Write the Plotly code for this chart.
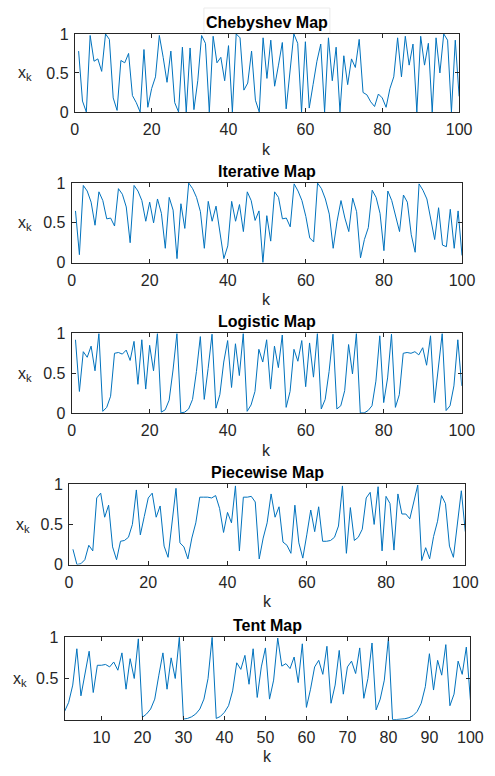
import plotly.graph_objects as go

W, H = 495, 776

k = list(range(1, 101))

titles = ["Chebyshev Map", "Iterative Map", "Logistic Map", "Piecewise Map", "Tent Map"]

chebyshev = [0.78, 0.14, 0.0, 0.98, 0.65, 0.68, 0.52, 1.0, 0.93, 0.18,
             0.02, 0.66, 0.63, 0.75, 0.21, 0.12, 0.0, 0.8, 0.06, 0.3,
             0.45, 0.98, 0.7, 0.38, 0.78, 0.12, 0.0, 0.83, 0.0, 0.82,
             0.03, 0.4, 0.98, 0.88, 0.0, 0.97, 0.63, 0.7, 0.4, 0.85,
             0.0, 1.0, 0.95, 0.28, 0.37, 0.78, 0.15, 0.0, 0.95, 0.43,
             0.92, 0.33, 0.6, 0.89, 0.04, 0.55, 1.0, 0.88, 0.0, 0.9,
             0.05, 0.35, 0.65, 0.87, 0.0, 0.95, 0.4, 0.83, 0.0, 0.72,
             0.35, 0.68, 0.57, 0.93, 0.25, 0.22, 0.13, 0.07, 0.23, 0.18,
             0.06, 0.3, 0.45, 0.95, 0.45, 0.97, 0.6, 0.87, 0.0, 0.97,
             0.6, 0.88, 0.0, 0.95, 0.5, 1.0, 0.92, 0.0, 0.92, 0.2]

iterative = [0.65, 0.1, 0.97, 0.9, 0.76, 0.47, 0.89, 0.78, 0.55, 0.56,
             0.46, 0.93, 0.86, 0.7, 0.25, 0.97, 0.9, 0.78, 0.52, 0.76,
             0.5, 0.8, 0.62, 0.18, 0.82, 0.66, 0.05, 0.74, 0.43, 1.0,
             0.93, 0.82, 0.64, 0.18, 0.77, 0.52, 0.71, 0.37, 0.05, 0.21,
             0.77, 0.52, 0.73, 0.39, 0.89, 0.78, 0.53, 0.65, 0.0, 0.59,
             0.27, 0.89, 0.82, 0.55, 0.56, 0.45, 0.99, 0.9, 0.78, 0.58,
             0.31, 0.26, 1.0, 0.93, 0.8, 0.61, 0.18, 0.52, 0.78, 0.56,
             0.39, 0.81, 0.64, 0.06, 0.29, 0.44, 0.91, 0.82, 0.62, 0.15,
             0.9, 0.78, 0.58, 0.39, 0.85, 0.76, 0.35, 0.13, 0.99, 0.91,
             0.8, 0.56, 0.29, 0.69, 0.22, 0.2, 0.67, 0.18, 0.65, 0.09]

logistic = [0.92, 0.27, 0.77, 0.7, 0.84, 0.53, 1.0, 0.02, 0.07, 0.21,
            0.75, 0.76, 0.74, 0.79, 0.66, 0.9, 0.36, 0.92, 0.3, 0.85,
            0.53, 1.0, 0.01, 0.04, 0.16, 0.54, 1.0, 0.0, 0.01, 0.05,
            0.17, 0.52, 0.96, 0.17, 0.56, 0.99, 0.06, 0.23, 0.64, 0.91,
            0.32, 0.87, 0.47, 1.0, 0.02, 0.1, 0.27, 0.8, 0.64, 0.92,
            0.3, 0.84, 0.57, 0.98, 0.07, 0.27, 0.8, 0.65, 0.91, 0.33,
            0.88, 0.45, 1.0, 0.05, 0.17, 0.52, 0.99, 0.05, 0.09, 0.28,
            0.86, 0.49, 1.0, 0.0, 0.0, 0.03, 0.09, 0.4, 0.97, 0.13,
            0.44, 0.99, 0.07, 0.23, 0.75, 0.76, 0.75, 0.77, 0.73, 0.82,
            0.6, 0.97, 0.13, 0.56, 1.0, 0.03, 0.09, 0.34, 0.92, 0.34]

piecewise = [0.19, 0.0, 0.01, 0.06, 0.24, 0.17, 0.83, 0.89, 0.59, 0.74,
             0.22, 0.06, 0.29, 0.3, 0.34, 0.5, 0.93, 0.37, 0.6, 0.83,
             0.89, 0.59, 0.73, 0.23, 0.09, 0.52, 0.95, 0.27, 0.22, 0.07,
             0.33, 0.52, 0.84, 0.84, 0.84, 0.83, 0.86, 0.7, 0.4, 0.65,
             0.52, 0.98, 0.17, 0.84, 0.84, 0.85, 0.78, 0.07, 0.33, 0.52,
             0.88, 0.59, 0.72, 0.28, 0.24, 0.14, 0.74, 0.27, 0.08, 0.37,
             0.68, 0.41, 0.72, 0.29, 0.29, 0.3, 0.34, 0.48, 0.98, 0.14,
             0.71, 0.3, 0.34, 0.44, 0.83, 0.9, 0.5, 0.97, 0.17, 0.85,
             0.76, 0.18, 0.88, 0.63, 0.63, 0.57, 0.78, 0.99, 0.05, 0.21,
             0.07, 0.35, 0.54, 0.86, 0.76, 0.23, 0.09, 0.52, 0.92, 0.41]

tent = [0.1, 0.21, 0.42, 0.86, 0.29, 0.56, 0.83, 0.33, 0.66, 0.66,
        0.67, 0.64, 0.7, 0.6, 0.81, 0.37, 0.74, 0.5, 0.98, 0.03,
        0.07, 0.13, 0.25, 0.54, 0.81, 0.37, 0.75, 0.5, 1.0, 0.008,
        0.016, 0.036, 0.07, 0.13, 0.25, 0.5, 1.0, 0.016, 0.04, 0.09,
        0.17, 0.35, 0.69, 0.61, 0.78, 0.43, 0.86, 0.27, 0.64, 0.87,
        0.25, 0.48, 0.99, 0.65, 0.68, 0.62, 0.76, 0.45, 0.92, 0.15,
        0.37, 0.64, 0.72, 0.55, 0.89, 0.2, 0.42, 0.84, 0.31, 0.64,
        0.71, 0.56, 0.87, 0.26, 0.5, 0.93, 0.12, 0.25, 0.48, 0.99,
        0.002, 0.003, 0.006, 0.012, 0.025, 0.05, 0.1, 0.2, 0.4, 0.8,
        0.36, 0.72, 0.54, 0.91, 0.17, 0.31, 0.71, 0.55, 0.88, 0.24]

series = [chebyshev, iterative, logistic, piecewise, tent]

xtick_main = [0, 20, 40, 60, 80, 100]
xtick_tent = [10, 20, 30, 40, 50, 60, 70, 80, 90, 100]
ytick_main = [0, 0.5, 1]
ytick_tent = [0.5, 1]

# pixel boxes (left, right, top, bottom)
boxes = [(73.3, 471.3, 26.5, 106.3),
         (70.0, 474.3, 179.0, 260.3),
         (70.0, 474.0, 332.7, 414.0),
         (67.3, 477.7, 487.0, 569.0),
         (62.7, 483.0, 643.3, 727.7)]
ylab_x = [22, 22, 22, 20, 16.5]

INK = "#262626"
FONT = "Liberation Sans, Arial, sans-serif"

fig = go.Figure()
annotations = []
shapes = []

for i, (vals, ttl, box) in enumerate(zip(series, titles, boxes)):
    n = "" if i == 0 else str(i + 1)
    l, r, t, b = box
    fig.add_trace(go.Scatter(x=k, y=vals, mode="lines",
                             line=dict(color="#0072BD", width=1),
                             xaxis="x" + n, yaxis="y" + n, showlegend=False,
                             hoverinfo="skip"))
    is_tent = (i == 4)
    xaxis = dict(domain=[l / W, r / W], anchor="y" + n,
                 range=[1, 100] if is_tent else [0, 100],
                 tickvals=xtick_tent if is_tent else xtick_main,
                 ticks="inside", ticklen=4, tickwidth=1, tickcolor=INK,
                 showline=True, linecolor=INK, linewidth=1, mirror="ticks",
                 showgrid=False, zeroline=False, fixedrange=True,
                 ticklabelstandoff=3,
                 tickfont=dict(family=FONT, size=16, color=INK))
    yaxis = dict(domain=[1 - b / H, 1 - t / H], anchor="x" + n,
                 range=[0.0, 1],
                 tickvals=ytick_tent if is_tent else ytick_main,
                 ticktext=["0.5", "1"] if is_tent else ["0", "0.5", "1"],
                 ticks="inside", ticklen=4, tickwidth=1, tickcolor=INK,
                 showline=True, linecolor=INK, linewidth=1, mirror="ticks",
                 showgrid=False, zeroline=False, fixedrange=True,
                 ticklabelstandoff=2,
                 tickfont=dict(family=FONT, size=16, color=INK))
    fig.update_layout(**{"xaxis" + n: xaxis, "yaxis" + n: yaxis})

    cx = (l + r) / 2
    annotations.append(dict(text="<b>" + ttl + "</b>", x=cx / W, y=1 - t / H,
                            xref="paper", yref="paper", xanchor="center",
                            yanchor="bottom", yshift=1, showarrow=False,
                            font=dict(family=FONT, size=16, color="#000000")))
    annotations.append(dict(text="k", x=cx / W, y=1 - (b + 38) / H,
                            xref="paper", yref="paper", xanchor="center",
                            yanchor="middle", showarrow=False,
                            font=dict(family=FONT, size=16, color=INK)))
    annotations.append(dict(text="x<sub>k</sub>", x=ylab_x[i] / W,
                            y=1 - ((t + b) / 2 + 1) / H,
                            xref="paper", yref="paper", xanchor="center",
                            yanchor="middle", showarrow=False,
                            font=dict(family=FONT, size=16, color=INK)))

# faint box behind the first title
shapes.append(dict(type="rect", xref="paper", yref="paper",
                   x0=207 / W, x1=337.5 / W, y0=1 - 26.3 / H, y1=1.0,
                   line=dict(color="#ebebeb", width=1), fillcolor="white",
                   layer="below"))

fig.update_layout(width=W, height=H, autosize=False,
                  margin=dict(l=0, r=0, t=0, b=0, pad=0),
                  paper_bgcolor="white", plot_bgcolor="white",
                  annotations=annotations, shapes=shapes,
                  font=dict(family=FONT, color=INK))

fig.write_html("out.html",
               config={"responsive": False, "displayModeBar": False,
                       "staticPlot": True},
               post_script="document.body.style.margin='0';"
                           "document.body.style.overflow='hidden';")
